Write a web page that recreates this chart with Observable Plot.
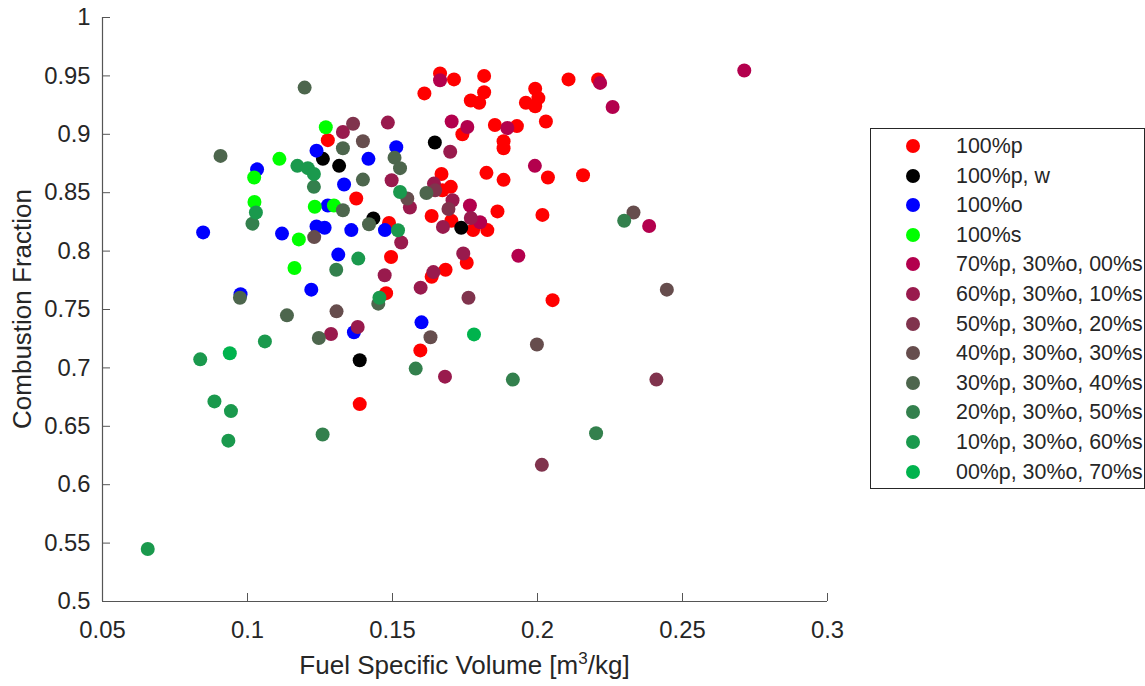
<!DOCTYPE html>
<html><head><meta charset="utf-8">
<script src="https://cdn.jsdelivr.net/npm/d3@7"></script>
<script src="https://cdn.jsdelivr.net/npm/@observablehq/plot@0.6"></script>
<style>
body{margin:0;background:#fff;font-family:"Liberation Sans",Arial,Helvetica,sans-serif;color:#262626;}
#wrap{position:relative;width:1145px;height:686px;overflow:hidden;}
#legend{position:absolute;left:870px;top:128px;width:275px;height:361px;border:1px solid #262626;box-sizing:border-box;background:#fff;}
.row{position:absolute;left:0;height:30px;width:100%;}
.sw{position:absolute;left:35px;top:8px;width:14px;height:14px;border-radius:50%;}
.lt{position:absolute;left:85px;top:0;line-height:30px;font-size:21.4px;white-space:nowrap;color:#262626;}
#xt{position:absolute;left:102px;width:725px;top:650px;text-align:center;font-size:26px;line-height:30px;}
#yt{position:absolute;left:22px;top:309px;transform:translate(-50%,-50%) rotate(-90deg);font-size:26px;line-height:30px;white-space:nowrap;}
sup{font-size:17px;vertical-align:10px;line-height:0;}
</style></head>
<body><div id="wrap"></div>
<script>
const seriesNames = ["100%p","100%p, w","100%o","100%s","70%p, 30%o, 00%s","60%p, 30%o, 10%s","50%p, 30%o, 20%s","40%p, 30%o, 30%s","30%p, 30%o, 40%s","20%p, 30%o, 50%s","10%p, 30%o, 60%s","00%p, 30%o, 70%s"];
const seriesColors = ["#ff0000","#000000","#0000ff","#00ff00","#b3004d","#991a4d","#80334d","#664d4d","#4d664d","#33804d","#1a994d","#00b34d"];
const xTicks = [0.05,0.1,0.15,0.2,0.25,0.3];
const xTickLabels = ["0.05","0.1","0.15","0.2","0.25","0.3"];
const yTicks = [0.5,0.55,0.6,0.65,0.7,0.75,0.8,0.85,0.9,0.95,1];
const yTickLabels = ["0.5","0.55","0.6","0.65","0.7","0.75","0.8","0.85","0.9","0.95","1"];

const s_p100 = [[0.1277,0.895],[0.1387,0.669],[0.1596,0.715],[0.2052,0.758],[0.1664,0.952],[0.1712,0.947],[0.1816,0.950],[0.161,0.935],[0.1816,0.936],[0.177,0.929],[0.1799,0.927],[0.1992,0.939],[0.2003,0.931],[0.196,0.927],[0.1992,0.924],[0.2107,0.947],[0.2209,0.947],[0.2029,0.911],[0.1853,0.908],[0.1929,0.907],[0.1741,0.900],[0.1883,0.894],[0.1883,0.888],[0.1669,0.866],[0.1824,0.867],[0.1883,0.861],[0.2036,0.863],[0.2157,0.865],[0.1375,0.845],[0.1672,0.852],[0.1701,0.855],[0.1703,0.826],[0.1635,0.830],[0.1778,0.818],[0.1827,0.818],[0.1862,0.834],[0.2017,0.831],[0.1488,0.824],[0.1495,0.795],[0.1756,0.790],[0.1683,0.784],[0.1635,0.778],[0.1478,0.764]];
const s_p100w = [[0.126,0.879],[0.1316,0.873],[0.1646,0.893],[0.1434,0.828],[0.1737,0.820],[0.1387,0.7065]];
const s_o100 = [[0.1238,0.886],[0.1033,0.870],[0.1333,0.857],[0.1277,0.839],[0.0847,0.816],[0.1119,0.815],[0.1238,0.821],[0.1266,0.820],[0.1358,0.818],[0.1313,0.797],[0.122,0.767],[0.0976,0.763],[0.1513,0.889],[0.1417,0.879],[0.1474,0.818],[0.1367,0.7305],[0.16,0.739]];
const s_s100 = [[0.127,0.906],[0.111,0.879],[0.1023,0.863],[0.1024,0.842],[0.1232,0.838],[0.1298,0.839],[0.1177,0.810],[0.1162,0.7855]];
const s_70_30_00 = [[0.2713,0.9546],[0.2216,0.944],[0.2259,0.9234],[0.2385,0.8215],[0.1664,0.9463],[0.1704,0.911],[0.1758,0.9063],[0.1896,0.9054],[0.1991,0.873],[0.1767,0.839],[0.1802,0.8247],[0.1934,0.796]];
const s_60_30_10 = [[0.1329,0.902],[0.1484,0.910],[0.1699,0.885],[0.1497,0.8606],[0.1643,0.8578],[0.1707,0.8435],[0.156,0.8373],[0.177,0.8284],[0.1674,0.8207],[0.153,0.8073],[0.1744,0.7979],[0.1641,0.782],[0.1473,0.7793],[0.1597,0.7687],[0.138,0.735],[0.1288,0.729],[0.1681,0.6925]];
const s_50_30_20 = [[0.1364,0.909],[0.1647,0.852],[0.1693,0.836],[0.1762,0.760],[0.2015,0.617],[0.241,0.690]];
const s_40_30_30 = [[0.123,0.812],[0.1307,0.7484],[0.1398,0.894],[0.1551,0.845],[0.1631,0.7262],[0.1998,0.720],[0.2331,0.833],[0.2446,0.767]];
const s_30_30_40 = [[0.1197,0.940],[0.1329,0.888],[0.0907,0.8815],[0.1329,0.835],[0.0974,0.760],[0.1136,0.745],[0.1246,0.7256],[0.1451,0.755],[0.1398,0.8612],[0.1507,0.880],[0.1526,0.871],[0.1617,0.8498],[0.1419,0.823]];
const s_20_30_50 = [[0.1229,0.855],[0.1017,0.8235],[0.1306,0.784],[0.1259,0.643],[0.158,0.6994],[0.1915,0.690],[0.2202,0.644],[0.2299,0.826]];
const s_10_30_60 = [[0.1172,0.873],[0.1208,0.871],[0.1229,0.866],[0.1029,0.833],[0.106,0.7227],[0.0837,0.7073],[0.0886,0.6713],[0.0943,0.663],[0.0934,0.6377],[0.0656,0.545],[0.1526,0.8506],[0.1519,0.8178],[0.1382,0.7936],[0.1455,0.760]];
const s_00_30_70 = [[0.0939,0.7125],[0.1781,0.7287]];

const allSeries = [s_p100,s_p100w,s_o100,s_s100,s_70_30_00,s_60_30_10,s_50_30_20,s_40_30_30,s_30_30_40,s_20_30_50,s_10_30_60,s_00_30_70];
const rows = allSeries.flatMap((pts,i)=>pts.map(([x,y])=>({x,y,series:seriesNames[i]})));

const W = 1145, H = 686, mL = 102, mR = 318, mT = 17, mB = 85;
const plotW = W-mL-mR, plotH = H-mT-mB;
const axisColor = "#555";

const chart = Plot.plot({
  width: W, height: H,
  marginLeft: mL, marginRight: mR, marginTop: mT, marginBottom: mB,
  style: {fontFamily: '"Liberation Sans", Arial, sans-serif', fontSize: "23.8px", color: "#262626", background: "#fff"},
  x: {domain: [0.05,0.3]},
  y: {domain: [0.5,1]},
  color: {domain: seriesNames, range: seriesColors},
  marks: [
    Plot.axisX(xTicks, {tickSize: 0, tickPadding: 20, tickFormat: (d)=>xTickLabels[xTicks.indexOf(d)], label: null, fill: "#262626", fontSize: 23.8}),
    Plot.axisY(yTicks, {tickSize: 0, tickPadding: 12, tickFormat: (d)=>yTickLabels[yTicks.indexOf(d)], label: null, fill: "#262626", fontSize: 23.8}),
    Plot.tickX(xTicks, {x: d=>d, stroke: axisColor, insetTop: plotH-8}),
    Plot.tickY(yTicks, {y: d=>d, stroke: axisColor, insetRight: plotW-8}),
    Plot.ruleX([0.05], {stroke: axisColor, strokeWidth: 1.2}),
    Plot.ruleY([0.5], {stroke: axisColor, strokeWidth: 1.2}),
    Plot.dot(rows, {x: "x", y: "y", fill: "series", r: 7, stroke: null})
  ]
});
const wrap = document.getElementById("wrap");
wrap.appendChild(chart);

const xt = document.createElement("div"); xt.id = "xt";
xt.innerHTML = "Fuel Specific Volume [m<sup>3</sup>/kg]";
wrap.appendChild(xt);
const yt = document.createElement("div"); yt.id = "yt";
yt.textContent = "Combustion Fraction";
wrap.appendChild(yt);

const lg = document.createElement("div"); lg.id = "legend";
seriesNames.forEach((n,i)=>{
  const r = document.createElement("div"); r.className = "row";
  r.style.top = (2 + i*29.6) + "px";
  const sw = document.createElement("span"); sw.className = "sw"; sw.style.background = seriesColors[i];
  const t = document.createElement("span"); t.className = "lt"; t.textContent = n;
  r.appendChild(sw); r.appendChild(t); lg.appendChild(r);
});
wrap.appendChild(lg);
</script></body></html>
